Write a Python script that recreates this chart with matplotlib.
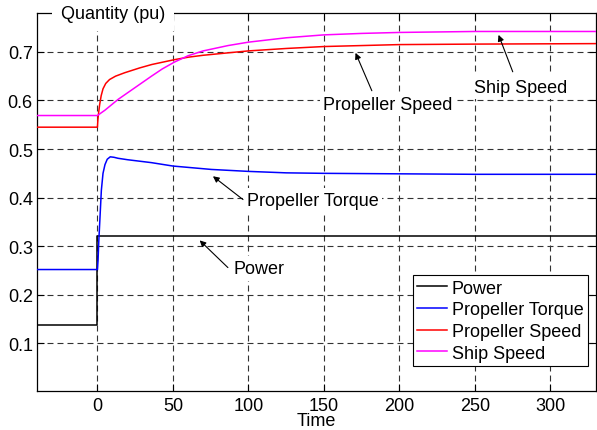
import matplotlib
matplotlib.use("Agg")
import matplotlib.pyplot as plt

plt.rcParams["font.family"] = ["Liberation Sans", "DejaVu Sans"]
plt.rcParams["font.size"] = 13
plt.rcParams["lines.scale_dashes"] = False

# values (time, per-unit quantity)
t_power = [-40, 0, 0, 330]
power = [0.137, 0.137, 0.321, 0.321]

t_torque = [-40, 0, 0.4, 0.9, 1.5, 2.6, 3.7, 5, 6.5, 8.5, 11, 13.6, 20, 35.8,
            50, 75.5, 100, 125, 150, 200, 250, 330]
torque = [0.252, 0.252, 0.27, 0.31, 0.347, 0.415, 0.450, 0.468, 0.479, 0.484,
          0.483, 0.481, 0.478, 0.472, 0.465, 0.458, 0.454, 0.451, 0.450, 0.449,
          0.448, 0.448]

t_prop = [-40, 0, 0.3, 0.8, 1.5, 2.5, 3.7, 5.5, 8, 12, 18, 28, 36, 51, 60, 70,
          86.5, 100, 125, 150, 200, 250, 330]
prop_speed = [0.545, 0.545, 0.560, 0.575, 0.592, 0.610, 0.624, 0.635, 0.643,
              0.650, 0.657, 0.667, 0.674, 0.684, 0.689, 0.693, 0.698, 0.702,
              0.707, 0.711, 0.715, 0.716, 0.717]

t_ship = [-40, 0, 5, 13.6, 24.7, 35.8, 43, 51, 60, 70, 86.5, 100, 125, 150,
          175, 200, 250, 330]
ship_speed = [0.569, 0.569, 0.580, 0.602, 0.626, 0.650, 0.665, 0.679, 0.692,
              0.702, 0.713, 0.720, 0.729, 0.735, 0.738, 0.740, 0.742, 0.742]

series_names = ["Power", "Propeller Torque", "Propeller Speed", "Ship Speed"]
series_colors = ["black", "#0000ff", "#ff0000", "#ff00ff"]

# label text centre, arrow tail, arrow tip
notes = [
    ("Ship Speed", (280.5, 0.627), (275.0, 0.659), (265.6, 0.735)),
    ("Propeller Speed", (192.5, 0.592), (181.7, 0.620), (170.9, 0.698)),
    ("Propeller Torque", (142.7, 0.395), (96.4, 0.396), (76.5, 0.444)),
    ("Power", (106.8, 0.254), (86.4, 0.256), (67.7, 0.312)),
]

fig = plt.figure(figsize=(5.97, 4.31), dpi=100)
ax = fig.add_axes([0.062, 0.0905, 0.936, 0.877])

xs = [t_power, t_torque, t_prop, t_ship]
ys = [power, torque, prop_speed, ship_speed]
for x, y, name, c in zip(xs, ys, series_names, series_colors):
    ax.plot(x, y, color=c, lw=1.1, label=name, zorder=3)

ax.set_xlim(-40, 330)
ax.set_ylim(0.002, 0.78)
ax.set_xticks([0, 50, 100, 150, 200, 250, 300])
ax.set_yticks([0.1, 0.2, 0.3, 0.4, 0.5, 0.6, 0.7])
ax.set_axisbelow(True)
ax.grid(True, color="0.2", lw=0.8, dashes=(4.3, 2.9))
ax.tick_params(direction="in", length=5, width=0.8, top=True, right=True,
               labelsize=13)
ax.tick_params(axis="x", pad=4)
ax.tick_params(axis="y", pad=3)
for s in ax.spines.values():
    s.set_linewidth(0.9)

ax.set_xlabel("Time", fontsize=13, labelpad=-1)
ax.text(0.136, 1.0, "Quantity (pu)", transform=ax.transAxes, ha="center",
        va="center", fontsize=13, zorder=10, clip_on=False,
        bbox=dict(boxstyle="square,pad=0.5", facecolor="white", edgecolor="none"))

for label, pos, tail, tip in notes:
    ax.text(pos[0], pos[1], label, ha="center", va="center", fontsize=13,
            zorder=4, bbox=dict(boxstyle="square,pad=0.2", facecolor="white",
                                edgecolor="none"))
    ax.annotate("", xy=tip, xytext=tail, zorder=5,
                arrowprops=dict(arrowstyle="-|>", color="black", lw=0.8,
                                mutation_scale=9, shrinkA=0, shrinkB=0))

leg = ax.legend(loc="lower right", bbox_to_anchor=(0.9857, 0.0653),
                borderaxespad=0, fontsize=13, fancybox=False, framealpha=1,
                edgecolor="black", handlelength=1.65, handletextpad=0.25,
                labelspacing=0.26, borderpad=0.25)
leg.get_frame().set_linewidth(0.8)
leg.set_zorder(6)

fig.savefig("out.png", dpi=100)
